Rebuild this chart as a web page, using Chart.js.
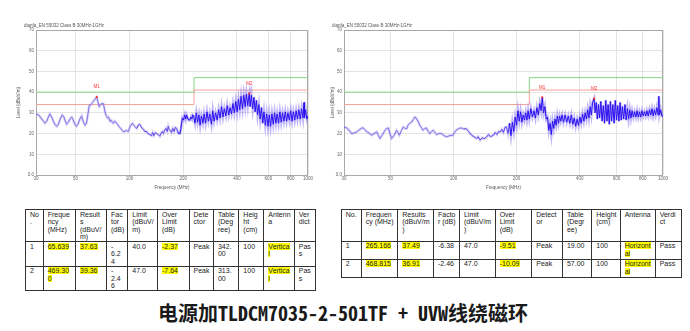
<!DOCTYPE html>
<html><head><meta charset="utf-8">
<script src="https://cdn.jsdelivr.net/npm/chart.js@4.4.1/dist/chart.umd.min.js"></script>
<style>
html,body{margin:0;padding:0;background:#fff;width:690px;height:331px;overflow:hidden;}
#c1{position:absolute;left:0;top:0;}
#c2{position:absolute;left:330px;top:0;}
table{position:absolute;border-collapse:collapse;table-layout:fixed;font-family:"Liberation Sans",Arial,sans-serif;font-size:7px;line-height:7.6px;color:#222;}
td{border:1px solid #333;vertical-align:top;padding:0.5px 3px 0 4px;overflow-wrap:anywhere;word-break:normal;overflow:hidden;}
.hl{background:#ffff00;}
#cap{position:absolute;left:158px;top:300px;font-family:"Noto Sans Mono CJK SC","Noto Sans CJK SC",sans-serif;font-weight:bold;font-size:20px;line-height:26px;color:#1a1a1a;white-space:nowrap;}
</style></head><body>
<canvas id="c1" width="330" height="195"></canvas>
<canvas id="c2" width="360" height="195"></canvas>
<table id="t1"></table>
<table id="t2"></table>
<div id="cap">电源加TLDCM7035-2-501TF + UVW线绕磁环</div>
<script>
// ---------- data ----------
const chartTitle = 'dianfa_EN 55032 Class B 30MHz-1GHz';
const xTicks = [30, 50, 100, 200, 400, 600, 800, 1000];
const yTicks = [0, 10, 20, 30, 40, 50, 60, 70];
const yTickLabels = ['0.0', '10', '20', '30', '40', '50', '60', '70'];
const limitFreq = [30, 230, 230, 1000];
const limitLevel = [40, 40, 47, 47];
const marginLevel = [34, 34, 41, 41];
const markerNames = ['M1', 'M2'];

const leftFreq = [
  30, 31, 32, 33, 33.7, 34.5, 35.2, 35.9, 36.7, 37.5,
  38.3, 39.2, 40, 41, 42.1, 43, 43.8, 44.5, 45.5, 46.5,
  47.5, 48.5, 49.5, 50.6, 51.5, 52.8, 54, 55, 56.4, 57.5,
  58.5, 59.6, 61, 62, 62.8, 64, 65.64, 66.5, 67.8, 69,
  70, 71.4, 72.5, 73.5, 74.5, 75.5, 76.5, 77.8, 79, 80,
  81.2, 82.5, 84, 85.5, 86.6, 88, 89.5, 91, 92.5, 94.4,
  96, 98.5, 100, 102, 104, 106, 108, 110, 112, 114,
  116, 118, 120, 122, 125, 127, 130, 133, 135, 137,
  140, 142, 145, 148, 150, 153, 155, 158, 160, 163,
  165, 167, 170, 172, 175, 178, 181, 184, 186, 189,
  192, 194, 196, 198, 201, 204, 207, 209, 212, 215,
  218, 221, 224, 226, 229,
  233, 237, 241, 245, 249, 253, 258, 262, 267, 272,
  277, 282, 288, 293, 298, 304, 310, 316, 322, 328,
  334, 340, 347, 353, 360, 366, 373, 380, 387, 394,
  401, 408, 415, 422, 430, 437, 445, 452, 460, 465,
  469.3, 474, 482, 490, 498, 506, 514, 522, 531, 540,
  549, 558, 567, 577, 587, 597, 607, 617, 628, 639,
  650, 661, 672, 684, 696, 708, 720, 733, 746, 759,
  772, 786, 800, 814, 828, 843, 858, 873, 889, 905,
  921, 937, 950, 955, 970, 985, 1000
];
const leftLevel = [
  29.5, 29, 27.5, 26, 25, 26, 28, 29.5, 28, 26,
  24.5, 23.5, 24.5, 27, 29, 28, 26, 24.5, 25.5, 27,
  28, 26.5, 24.5, 23.5, 24.5, 27, 28.5, 26, 24, 25,
  29, 33.5, 34, 35, 35.5, 36.5, 37.63, 35.5, 33, 34,
  34.5, 34.5, 32, 29.5, 28.4, 27.5, 28, 26, 26.5, 25.5,
  25, 26, 25.5, 24.5, 24, 23, 22.5, 21.5, 21, 21,
  21.5, 21, 22.5, 24, 25, 24, 23, 22.5, 24, 24.5,
  23.5, 22.5, 22, 21, 21, 20, 19.5, 19, 20.5, 19,
  20.5, 20, 19.5, 18.7, 20, 21, 20, 21.7, 22.5, 21,
  23.5, 22, 21.5, 20.5, 22.5, 21, 23, 22.5, 21, 20,
  20, 22, 25, 27.5, 26.5, 29, 27, 29, 27.5, 26.5,
  26.5, 28, 27, 29, 28.5,
  25, 30, 25.5, 29, 24, 28.5, 25, 29.5, 25, 30.5,
  26, 29.5, 24.5, 31, 26, 30, 26.5, 31.5, 27.5, 33,
  28, 32, 28.5, 33.5, 29, 32.5, 29.5, 34.5, 30, 35.5,
  30.5, 36.5, 31.5, 38, 32, 38.5, 33, 39, 33.5, 37.5,
  39.36, 33, 38.5, 32, 37.5, 30.5, 36, 29, 34, 27,
  32.5, 25, 30.5, 24, 29.5, 23.5, 29, 23.5, 29.5, 24.5,
  30, 25, 29.5, 25, 30.5, 25.5, 30, 26, 30.5, 26,
  30, 26.5, 31, 26, 30.5, 26.5, 31, 27, 31.5, 27,
  32, 27.5, 35, 27.5, 31.5, 27, 28.5
];
const leftMarkFreq = [65.639, 469.3];
const leftMarkLevel = [37.63, 39.36];

const rightFreq = [
  30, 30.9, 31.8, 32.6, 33.5, 34.5, 35.7, 36.9, 37.6, 38.4,
  39.5, 40.6, 41.8, 43, 43.8, 44.6, 45.8, 47.1, 48, 48.8,
  49.7, 50.6, 52, 53.5, 54.3, 55.1, 56.4, 57.6, 58.7, 59.8,
  60.6, 61.5, 63.1, 64.3, 65.4, 66.3, 67.2, 68, 69, 70.3,
  71.6, 73, 74.3, 75.7, 77.1, 78.5, 80, 81.5, 83, 85,
  87.6, 90, 92.6, 96, 99.6, 101, 103, 106, 109, 112,
  115, 118, 122, 125, 129, 131, 134, 137, 140, 144,
  147, 150, 155, 158, 161, 164, 167, 170, 173, 176,
  179,
  182, 185, 188, 191, 194, 197, 200, 203, 206, 209,
  212, 215, 218, 221, 224, 227, 230, 234, 238, 242,
  246, 250, 254, 258, 262, 265.17, 269, 273, 277, 281,
  285, 289, 293, 297, 301, 305, 309, 313, 317, 321,
  325, 330, 335, 341, 347, 353, 359, 365, 371, 377,
  383, 389, 395, 401, 407, 413, 419, 425, 431, 437,
  443, 449, 455, 461, 468.8, 474, 480, 486, 492, 498,
  505, 512, 519, 526, 533, 540, 547, 554, 561, 568,
  576, 584, 592, 600, 608, 616, 624, 632, 640, 649,
  658, 667, 676, 685, 694, 703, 712, 722, 732, 742,
  752, 762, 772, 783, 794, 805, 816, 827, 838, 850,
  862, 874, 886, 898, 910, 922, 935, 948, 955, 962,
  975, 988, 1000
];
const rightLevel = [
  23.2, 22.7, 21.5, 20, 20.3, 20.8, 22, 22.9, 22, 21,
  20.3, 19.2, 20, 20.8, 19, 17.6, 19.5, 21.6, 22.5, 22.7,
  20, 17.6, 19, 21.6, 20.5, 19.2, 21.5, 23.2, 22.5, 22.4,
  24, 24.8, 25.6, 26.8, 28, 27.5, 26.5, 25.5, 24, 22.8,
  21.6, 22.5, 22.7, 21, 20, 21, 21.6, 20.5, 19.5, 20,
  20, 19, 18.4, 19, 19.2, 20.5, 21.6, 22.5, 22.7, 22.2,
  22.4, 21, 19.2, 18.5, 17.6, 18.5, 16.8, 18, 17.5, 18.4,
  19.5, 18.5, 19.2, 20.5, 19.5, 21, 20.8, 22, 20.5, 23,
  23.2,
  20, 25, 19, 25.5, 21, 28, 24, 31, 26, 30.5,
  25.5, 29, 26.5, 30, 26.5, 31, 27, 32, 28, 31,
  27.5, 32.5, 29, 34.5, 31, 37.49, 30, 33, 27, 28,
  21.5, 25, 19.5, 26, 22.5, 27, 24, 28.5, 25, 28.5,
  26, 29, 25.5, 29, 25.5, 28.5, 25, 29, 24.5, 27.5,
  23.5, 27, 24, 28, 25, 29.5, 26, 30, 27, 31.5,
  27.5, 33, 29, 35, 36.91, 30, 35, 27, 34, 27.5,
  35.5, 26, 33.5, 25, 36, 26, 34, 24.5, 35.5, 26,
  34, 25, 36, 26.5, 33.5, 26, 35, 26.5, 33, 27,
  34, 26.5, 32, 27, 31.5, 27.5, 31, 28, 30.5, 28,
  31, 28, 30.5, 28, 31, 28.5, 30.5, 28.5, 31, 28.5,
  31.5, 29, 32, 28.5, 31.5, 29, 32.5, 29, 38, 29,
  31.5, 28.5, 28.5
];
const rightMarkFreq = [265.166, 468.815];
const rightMarkLevel = [37.49, 36.91];

const tableHeaders = ['No.', 'Frequency (MHz)', 'Results (dBuV/m)', 'Factor (dB)', 'Limit (dBuV/m)', 'Over Limit (dB)', 'Detector', 'Table (Degree)', 'Height (cm)', 'Antenna', 'Verdict'];
const leftRows = [
  ['1', '65.639', '37.63', '-6.24', '40.0', '-2.37', 'Peak', '342.00', '100', 'Vertical', 'Pass'],
  ['2', '469.300', '39.36', '-2.46', '47.0', '-7.64', 'Peak', '313.00', '100', 'Vertical', 'Pass']
];
const rightRows = [
  ['1', '265.166', '37.49', '-6.38', '47.0', '-9.51', 'Peak', '19.00', '100', 'Horizontal', 'Pass'],
  ['2', '468.815', '36.91', '-2.46', '47.0', '-10.09', 'Peak', '57.00', '100', 'Horizontal', 'Pass']
];
const highlightCols = [1, 2, 5, 9];

// ---------- charts ----------
const tinyFont = {size: 4.5, family: 'Liberation Sans'};

const decor = {
  id: 'decor',
  beforeDatasetsDraw(chart) {
    const {ctx, chartArea: a} = chart;
    ctx.save();
    ctx.strokeStyle = '#a8a8a8';
    ctx.lineWidth = 1;
    ctx.strokeRect(Math.round(a.left) + 0.5, Math.round(a.top) + 0.5, Math.round(a.width) - 1, Math.round(a.height));
    ctx.restore();
  },
  afterDatasetsDraw(chart) {
    const {ctx, chartArea: a} = chart;
    ctx.save();
    const meta = chart.getDatasetMeta(4);
    ctx.fillStyle = '#ff3030';
    ctx.font = '4.5px "Liberation Sans"';
    ctx.textAlign = 'center';
    ctx.textBaseline = 'middle';
    meta.data.forEach((pt, i) => ctx.fillText(markerNames[i], pt.x, pt.y - 10));
    ctx.fillStyle = '#555';
    ctx.textAlign = 'left';
    ctx.fillText(chartTitle, a.left - 12, a.top - 4);
    ctx.restore();
  }
};

function makeChart(id, freq, level, markF, markL, pad, yW) {
  const segColor = c => {
    const x = c.p0.parsed.x;
    return x < 110 ? '#8474e4' : (x < 185 ? '#5e46e6' : '#2a10f0');
  };
  const haloColor = c => {
    const x = c.p0.parsed.x;
    return x < 185 ? 'rgba(150,135,235,0.35)' : 'rgba(120,100,240,0.45)';
  };
  const pts = freq.map((f, i) => ({x: f, y: level[i]}));
  return new Chart(document.getElementById(id), {
    type: 'line',
    data: {
      datasets: [
        {data: limitFreq.map((f, i) => ({x: f, y: limitLevel[i]})), borderColor: '#86d486', borderWidth: 1, pointRadius: 0, order: 4},
        {data: limitFreq.map((f, i) => ({x: f, y: marginLevel[i]})), borderColor: '#f4a29a', borderWidth: 1, pointRadius: 0, order: 3},
        {data: pts, borderColor: 'rgba(130,110,235,0.4)', borderWidth: 2.6, pointRadius: 0, segment: {borderColor: haloColor}, order: 2},
        {data: pts, borderColor: '#3a20ea', borderWidth: 1, pointRadius: 0, segment: {borderColor: segColor}, order: 1},
        {data: markF.map((f, i) => ({x: f, y: markL[i]})), showLine: false, pointRadius: 1.3, pointStyle: 'rect', backgroundColor: '#ff2020', borderColor: '#ff2020', borderWidth: 0, order: 0}
      ]
    },
    options: {
      responsive: false, animation: false, devicePixelRatio: 1,
      layout: {padding: pad},
      plugins: {legend: {display: false}, tooltip: {enabled: false}, title: {display: false}},
      elements: {line: {tension: 0}},
      scales: {
        x: {
          type: 'logarithmic', min: 30, max: 1000,
          afterBuildTicks: s => { s.ticks = xTicks.map(v => ({value: v})); },
          afterFit: s => { s.height = 15; },
          ticks: {callback: v => String(v), font: tinyFont, color: '#666', padding: 1, maxRotation: 0, autoSkip: false},
          grid: {color: '#e4e4e4', drawTicks: false, lineWidth: 1},
          border: {display: false},
          title: {display: true, text: 'Frequency (MHz)', font: tinyFont, color: '#555', padding: {top: 1, bottom: 0}}
        },
        y: {
          min: 0, max: 70,
          afterBuildTicks: s => { s.ticks = yTicks.map(v => ({value: v})); },
          afterFit: s => { s.width = yW; },
          ticks: {callback: (v, i) => yTickLabels[i], font: tinyFont, color: '#666', padding: 2},
          grid: {color: '#e4e4e4', drawTicks: false, lineWidth: 1},
          border: {display: false},
          title: {display: true, text: 'Level (dBuV/m)', font: tinyFont, color: '#555', padding: {top: 0, bottom: 1}}
        }
      }
    },
    plugins: [decor]
  });
}

makeChart('c1', leftFreq, leftLevel, leftMarkFreq, leftMarkLevel, {left: 16, right: 22, top: 30, bottom: 5}, 20);
makeChart('c2', rightFreq, rightLevel, rightMarkFreq, rightMarkLevel, {left: 0, right: 27, top: 30, bottom: 5}, 14);

// ---------- tables ----------
function fillCell(el, txt) {
  // allow a line break after a leading minus sign, as in the source document
  if (txt.startsWith('-') && txt.length > 1) {
    el.appendChild(document.createTextNode('-'));
    el.appendChild(document.createElement('wbr'));
    el.appendChild(document.createTextNode(txt.slice(1)));
  } else {
    el.textContent = txt;
  }
}
function buildTable(id, left, top, widths, heights, rows) {
  const t = document.getElementById(id);
  t.style.left = left + 'px';
  t.style.top = top + 'px';
  t.style.width = widths.reduce((a, b) => a + b, 0) + 'px';
  const cg = document.createElement('colgroup');
  widths.forEach(w => { const c = document.createElement('col'); c.style.width = w + 'px'; cg.appendChild(c); });
  t.appendChild(cg);
  [tableHeaders, ...rows].forEach((r, ri) => {
    const tr = document.createElement('tr');
    tr.style.height = heights[ri] + 'px';
    r.forEach((txt, ci) => {
      const td = document.createElement('td');
      if (ri > 0 && highlightCols.includes(ci)) {
        const sp = document.createElement('span');
        sp.className = 'hl';
        fillCell(sp, txt);
        td.appendChild(sp);
      } else {
        fillCell(td, txt);
      }
      tr.appendChild(td);
    });
    t.appendChild(tr);
  });
}
buildTable('t1', 25, 209, [17.7, 32.3, 31, 21.3, 29.7, 31.6, 24.4, 25.4, 25, 30.4, 21.4], [32.4, 23.3, 24.3], leftRows);
buildTable('t2', 340.7, 209, [20, 36.6, 35.7, 26, 35.7, 36.6, 30.7, 29.3, 28.4, 35, 26], [31.7, 18, 18.3], rightRows);
</script>
</body></html>
